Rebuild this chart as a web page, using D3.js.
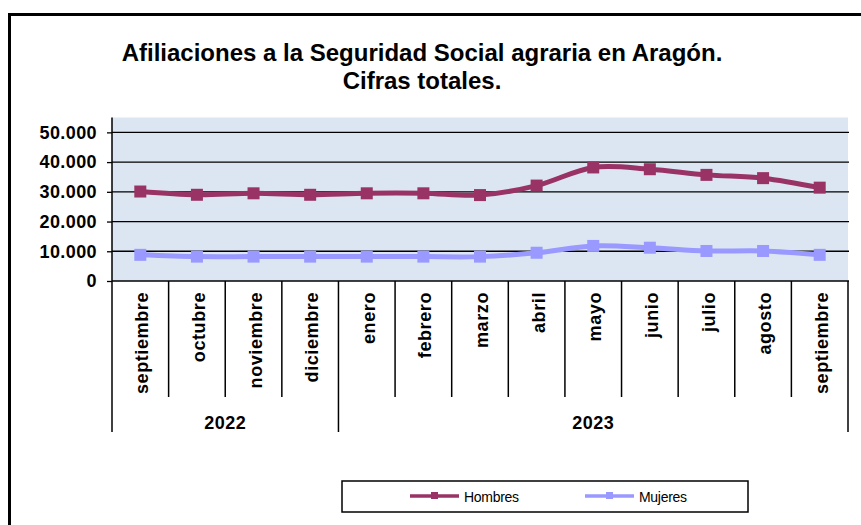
<!DOCTYPE html>
<html>
<head>
<meta charset="utf-8">
<script src="https://cdn.jsdelivr.net/npm/d3@7"></script>
<style>
  body { margin: 0; background: #fff; }
  svg { display: block; font-family: "Liberation Sans", Arial, sans-serif; }
</style>
</head>
<body>
<svg width="861" height="525"></svg>
<script>
// данные графика
const months = ['septiembre', 'octubre', 'noviembre', 'diciembre', 'enero', 'febrero',
  'marzo', 'abril', 'mayo', 'junio', 'julio', 'agosto', 'septiembre'];
const yearLabels = ['2022', '2023'];
const yearSpans = [4, 9];   // сколько месяцев в каждом году
const hombres = [30100, 29000, 29500, 29000, 29500, 29500, 28900, 32100, 38200, 37600, 35700, 34600, 31400];
const mujeres = [8800, 8200, 8200, 8200, 8200, 8200, 8200, 9500, 11800, 11200, 10100, 10100, 8800];
const yTicks = [0, 10000, 20000, 30000, 40000, 50000];
const yMax = 55000;
const seriesNames = ['Hombres', 'Mujeres'];
const seriesColors = ['#993366', '#9999ff'];

const svg = d3.select('svg');

const area = { left: 112, right: 848, top: 117.5, bottom: 281 };

const locale = d3.formatLocale({ decimal: ',', thousands: '.', grouping: [3], currency: ['', ''] });
const fmt = locale.format(',');

const scX = d3.scaleBand()
  .domain(d3.range(months.length))
  .range([area.left, area.right]);

const scY = d3.scaleLinear()
  .domain([0, yMax])
  .range([area.bottom, area.top]);

// рамка
svg.append('rect')
  .attr('x', 9.5).attr('y', 14.5)
  .attr('width', 900).attr('height', 600)
  .attr('fill', 'none').attr('stroke', '#000').attr('stroke-width', 3);

// заголовок
const title = svg.append('text')
  .attr('text-anchor', 'middle')
  .style('font-weight', 'bold')
  .style('font-size', '24px');
title.append('tspan').attr('x', 422).attr('y', 61).text('Afiliaciones a la Seguridad Social agraria en Aragón.');
title.append('tspan').attr('x', 422).attr('y', 89).text('Cifras totales.');

// область построения
svg.append('rect')
  .attr('x', area.left).attr('y', area.top)
  .attr('width', area.right - area.left).attr('height', area.bottom - area.top)
  .attr('fill', '#dce6f2');

// сетка
svg.append('g')
  .selectAll('line')
  .data(yTicks.filter(d => d > 0))
  .join('line')
  .attr('x1', area.left).attr('x2', area.right + 1)
  .attr('y1', d => scY(d)).attr('y2', d => scY(d))
  .attr('stroke', '#000').attr('stroke-width', 1.3);

// ось Y
const axisY = d3.axisLeft(scY).tickValues(yTicks).tickFormat(fmt).tickSize(5).tickPadding(10);
const gY = svg.append('g')
  .attr('transform', `translate(${area.left}, 0)`)
  .call(axisY);
gY.select('.domain').remove();
gY.selectAll('line').attr('stroke', '#000').attr('stroke-width', 1.3);
gY.selectAll('text')
  .attr('fill', '#000')
  .style('font-size', '18px')
  .style('font-weight', 'bold')
  .style('letter-spacing', '0.4px');
svg.append('line')
  .attr('x1', area.left).attr('x2', area.left)
  .attr('y1', area.top).attr('y2', area.bottom)
  .attr('stroke', '#000').attr('stroke-width', 1.5);

// ось X
svg.append('line')
  .attr('x1', area.left).attr('x2', area.right + 1)
  .attr('y1', area.bottom).attr('y2', area.bottom)
  .attr('stroke', '#000').attr('stroke-width', 1.5);

// разделители месяцев и годов
const yearBounds = [0];
yearSpans.forEach(n => yearBounds.push(yearBounds[yearBounds.length - 1] + n));

svg.append('g')
  .selectAll('line')
  .data(d3.range(months.length + 1))
  .join('line')
  .attr('x1', i => i < months.length ? scX(i) : area.right)
  .attr('x2', i => i < months.length ? scX(i) : area.right)
  .attr('y1', area.bottom)
  .attr('y2', i => yearBounds.includes(i) ? 432 : 397)
  .attr('stroke', '#000').attr('stroke-width', 1.5);

svg.append('g')
  .selectAll('text')
  .data(months)
  .join('text')
  .attr('transform', (d, i) => `translate(${scX(i) + scX.bandwidth() / 2}, 292) rotate(-90)`)
  .attr('text-anchor', 'end')
  .attr('dy', '0.45em')
  .style('font-size', '18px')
  .style('font-weight', 'bold')
  .style('letter-spacing', '0.6px')
  .text(d => d);

svg.append('g')
  .selectAll('text')
  .data(yearLabels)
  .join('text')
  .attr('x', (d, i) => {
    const a = scX(yearBounds[i]);
    const b = yearBounds[i + 1] < months.length ? scX(yearBounds[i + 1]) : area.right;
    return (a + b) / 2;
  })
  .attr('y', 429)
  .attr('text-anchor', 'middle')
  .style('font-size', '18px')
  .style('font-weight', 'bold')
  .style('letter-spacing', '0.5px')
  .text(d => d);

// линии
function createChart(values, color) {
  const line = d3.line()
    .x((d, i) => scX(i) + scX.bandwidth() / 2)
    .y(d => scY(d))
    .curve(d3.curveCardinal.tension(0));

  svg.append('path')
    .datum(values)
    .attr('d', line)
    .attr('fill', 'none')
    .attr('stroke', color)
    .attr('stroke-width', 5);

  const m = 12;
  svg.append('g')
    .selectAll('rect')
    .data(values)
    .join('rect')
    .attr('x', (d, i) => scX(i) + scX.bandwidth() / 2 - m / 2)
    .attr('y', d => scY(d) - m / 2)
    .attr('width', m).attr('height', m)
    .attr('fill', color);
}

createChart(mujeres, seriesColors[1]);
createChart(hombres, seriesColors[0]);

// легенда
svg.append('rect')
  .attr('x', 342).attr('y', 481)
  .attr('width', 406).attr('height', 31)
  .attr('fill', '#fff').attr('stroke', '#000').attr('stroke-width', 1.5);

const legendX = [410, 585];
const leg = svg.append('g')
  .selectAll('g')
  .data(seriesNames)
  .join('g')
  .attr('transform', (d, i) => `translate(${legendX[i]}, 496)`);
leg.append('line')
  .attr('x1', 0).attr('x2', 49)
  .attr('stroke', (d, i) => seriesColors[i]).attr('stroke-width', 3.5);
leg.append('rect')
  .attr('x', 21).attr('y', -4).attr('width', 7).attr('height', 7)
  .attr('fill', (d, i) => seriesColors[i]);
leg.append('text')
  .attr('x', 54).attr('y', 6)
  .style('font-size', '14px')
  .style('letter-spacing', '-0.3px')
  .text(d => d);
</script>
</body>
</html>
